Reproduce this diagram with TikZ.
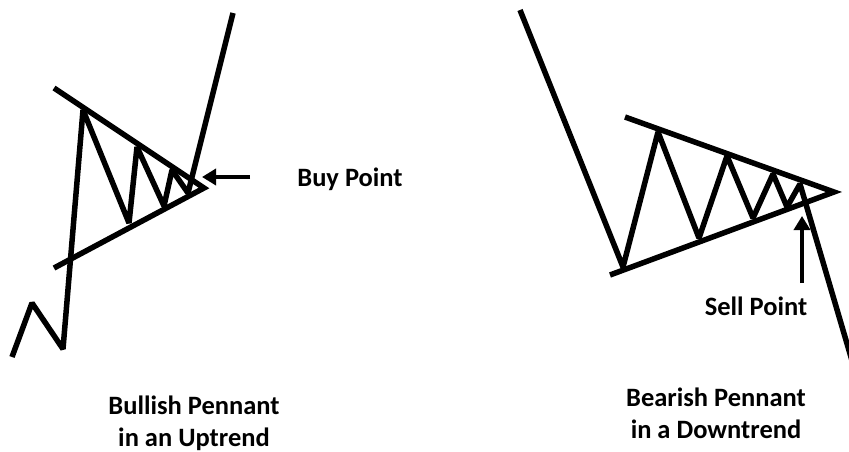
\documentclass[tikz,border=0pt]{standalone}
\usepackage{fontspec}
\setmainfont{Carlito}
\usetikzlibrary{arrows.meta}
\tikzset{
  price/.style={line width=5.5pt, line join=miter, miter limit=2},
  trend/.style={line width=5.5pt},
  pointer/.style={line width=4.5pt, -{Triangle[length=14pt,width=16pt]}},
  lbl/.style={font=\bfseries\fontsize{26.5}{33}\selectfont, inner sep=0pt, anchor=base}
}
\begin{document}
\begin{tikzpicture}[x=1pt,y=-1pt]
\useasboundingbox[fill=white] (0,0) rectangle (849,452);
% Bullish pennant
\coordinate (a0) at (12,357);
\coordinate (a1) at (32,303);
\coordinate (a2) at (63,349);
\coordinate (a3) at (83,110);
\coordinate (a4) at (129,223);
\coordinate (a5) at (137,147);
\coordinate (a6) at (164,206);
\coordinate (a7) at (172,170);
\coordinate (a8) at (188,193);
\coordinate (a9) at (233,13);
\coordinate (ut1) at (54,88);
\coordinate (lt1) at (54,268);
\coordinate (ap1) at (204,188);
\draw[trend] (ut1) -- (ap1) -- (lt1);
\draw[price] (a0) -- (a1) -- (a2) -- (a3) -- (a4) -- (a5) -- (a6) -- (a7) -- (a8) -- (a9);
\coordinate (buyS) at (250,177);
\coordinate (buyE) at (202,177);
\draw[pointer] (buyS) -- (buyE);
\node[lbl] (buy) at (350,186) {Buy Point};
\node[lbl] (bull1) at (194,414) {Bullish Pennant};
\node[lbl] (bull2) at (194,446) {in an Uptrend};
% Bearish pennant
\coordinate (b0) at (520,10);
\coordinate (b1) at (623,267);
\coordinate (b2) at (658,132);
\coordinate (b3) at (699,238);
\coordinate (b4) at (727,156);
\coordinate (b5) at (753,218);
\coordinate (b6) at (773,174);
\coordinate (b7) at (787,207);
\coordinate (b8) at (800,184);
\coordinate (b9) at (853,364);
\coordinate (ut2) at (625,117);
\coordinate (lt2) at (610,275);
\coordinate (ap2) at (834,192);
\draw[trend] (ut2) -- (ap2) -- (lt2);
\draw[price] (b0) -- (b1) -- (b2) -- (b3) -- (b4) -- (b5) -- (b6) -- (b7) -- (b8) -- (b9);
\coordinate (sellS) at (802,283);
\coordinate (sellE) at (802,216);
\draw[pointer] (sellS) -- (sellE);
\node[lbl] (sell) at (756,315) {Sell Point};
\node[lbl] (bear1) at (716,406) {Bearish Pennant};
\node[lbl] (bear2) at (716,438) {in a Downtrend};
\end{tikzpicture}
\end{document}
